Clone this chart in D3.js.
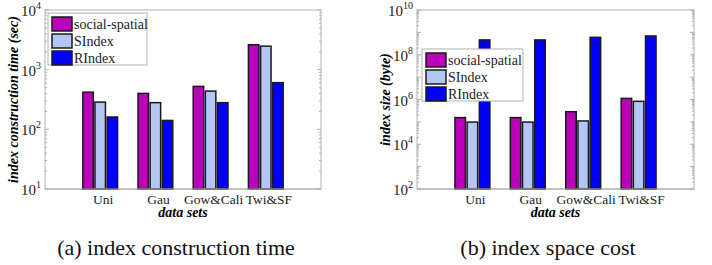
<!DOCTYPE html>
<html>
<head>
<meta charset="utf-8">
<script src="https://cdn.jsdelivr.net/npm/d3@7"></script>
<style>
  body { margin: 0; background: #fff; }
  svg { font-family: "Liberation Serif", "Times New Roman", serif; }
</style>
</head>
<body>
<div id="chart"></div>
<script>
// data
const categories = ["Uni", "Gau", "Gow&Cali", "Twi&SF"];
const seriesNames = ["social-spatial", "SIndex", "RIndex"];
const colors = ["#bb00bb", "#b4c6f6", "#0000ff"];

// (a) index construction time (sec)
const timeSocial = [420, 400, 525, 2620];
const timeSIndex = [286, 280, 438, 2480];
const timeRIndex = [161, 141, 280, 606];

// (b) index size (byte)
const sizeSocial = [1.55e5, 1.55e5, 2.85e5, 1.12e6];
const sizeSIndex = [9.8e4, 9.8e4, 1.1e5, 8.3e5];
const sizeRIndex = [4.6e8, 4.6e8, 6.0e8, 6.9e8];

const svg = d3.select('#chart')
  .append('svg')
    .attr('width', 712)
    .attr('height', 265);

function panel(opts) {
  const { left, right, top, bottom, yDomain, labelEvery, series, ylabel, caption, legend } = opts;
  const g = svg.append('g');

  const x = d3.scaleLinear().domain([0, 5]).range([left, right]);
  const y = d3.scaleLog().domain(yDomain).range([bottom, top]);
  const unit = x(1) - x(0);
  const bw = 0.19 * unit;
  const offs = [-0.22, 0, 0.22];

  // box
  g.append('rect')
    .attr('x', left).attr('y', top)
    .attr('width', right - left).attr('height', bottom - top)
    .attr('fill', 'none').attr('stroke', '#b0b0b0').attr('stroke-width', 1);

  // minor / major ticks on left and right
  const lo = Math.log10(yDomain[0]), hi = Math.log10(yDomain[1]);
  const tickVals = [];
  for (let e = lo; e < hi; e++) {
    for (let m = 1; m < 10; m++) tickVals.push(m * Math.pow(10, e));
  }
  tickVals.push(Math.pow(10, hi));
  tickVals.forEach(v => {
    const major = Math.abs(Math.log10(v) - Math.round(Math.log10(v))) < 1e-9;
    const len = major ? 4 : 2;
    g.append('line').attr('x1', left).attr('x2', left + len)
      .attr('y1', y(v)).attr('y2', y(v)).attr('stroke', '#b0b0b0');
    g.append('line').attr('x1', right).attr('x2', right - len)
      .attr('y1', y(v)).attr('y2', y(v)).attr('stroke', '#b0b0b0');
  });

  // y tick labels 10^n
  for (let e = lo; e <= hi; e += labelEvery) {
    const t = g.append('text')
      .attr('x', left - 4).attr('y', y(Math.pow(10, e)) + 6)
      .attr('text-anchor', 'end')
      .attr('font-size', 15).attr('fill', '#222');
    t.append('tspan').text('10');
    t.append('tspan').attr('dy', -7).attr('font-size', 10).text(e);
  }

  // bars
  series.forEach((vals, si) => {
    g.append('g').selectAll('rect')
      .data(vals)
      .join('rect')
        .attr('x', (d, i) => x(i + 1 + offs[si]) - bw / 2)
        .attr('y', d => y(d))
        .attr('width', bw)
        .attr('height', d => bottom - y(d))
        .attr('fill', colors[si])
        .attr('stroke', '#1a1a1a')
        .attr('stroke-width', 1.5);
  });

  // redraw bottom axis line over bar strokes
  g.append('line').attr('x1', left).attr('x2', right)
    .attr('y1', bottom).attr('y2', bottom).attr('stroke', '#b0b0b0');

  // x tick labels
  g.selectAll('.xl')
    .data(categories)
    .join('text')
      .attr('x', (d, i) => x(i + 1) + 3)
      .attr('y', bottom + 15)
      .attr('text-anchor', 'middle')
      .attr('font-size', 13.5)
      .attr('fill', '#222')
      .text(d => d);

  g.append('text')
    .attr('x', x(2.5)).attr('y', bottom + 28)
    .attr('text-anchor', 'middle')
    .attr('font-size', 14).attr('font-weight', 'bold').attr('font-style', 'italic')
    .text('data sets');

  g.append('text')
    .attr('transform', `translate(${left - 27},${(top + bottom) / 2}) rotate(-90)`)
    .attr('text-anchor', 'middle')
    .attr('font-size', 14).attr('font-weight', 'bold').attr('font-style', 'italic')
    .text(ylabel);

  // legend
  const lg = g.append('g').attr('transform', `translate(${legend[0]},${legend[1]})`);
  lg.append('rect').attr('width', legend[2]).attr('height', 52)
    .attr('fill', '#fff').attr('stroke', '#b0b0b0');
  seriesNames.forEach((name, i) => {
    lg.append('rect')
      .attr('x', 4).attr('y', 4 + i * 17)
      .attr('width', 20).attr('height', 14)
      .attr('fill', colors[i]).attr('stroke', '#1a1a1a').attr('stroke-width', 1.5);
    lg.append('text')
      .attr('x', 26).attr('y', 16 + i * 17)
      .attr('font-size', 14).attr('fill', '#222')
      .text(name);
  });

  // caption
  svg.append('text')
    .attr('x', caption[1]).attr('y', 255)
    .attr('text-anchor', 'middle')
    .attr('font-size', 22).attr('fill', '#111')
    .text(caption[0]);
}

panel({
  left: 45, right: 321, top: 10, bottom: 189,
  yDomain: [1e1, 1e4], labelEvery: 1,
  series: [timeSocial, timeSIndex, timeRIndex],
  ylabel: 'index construction time (sec)',
  caption: ['(a) index construction time', 176],
  legend: [48, 13, 99]
});

panel({
  left: 417, right: 694, top: 10, bottom: 189,
  yDomain: [1e2, 1e10], labelEvery: 2,
  series: [sizeSocial, sizeSIndex, sizeRIndex],
  ylabel: 'index size (byte)',
  caption: ['(b) index space cost', 548],
  legend: [422, 49, 101]
});
</script>
</body>
</html>
